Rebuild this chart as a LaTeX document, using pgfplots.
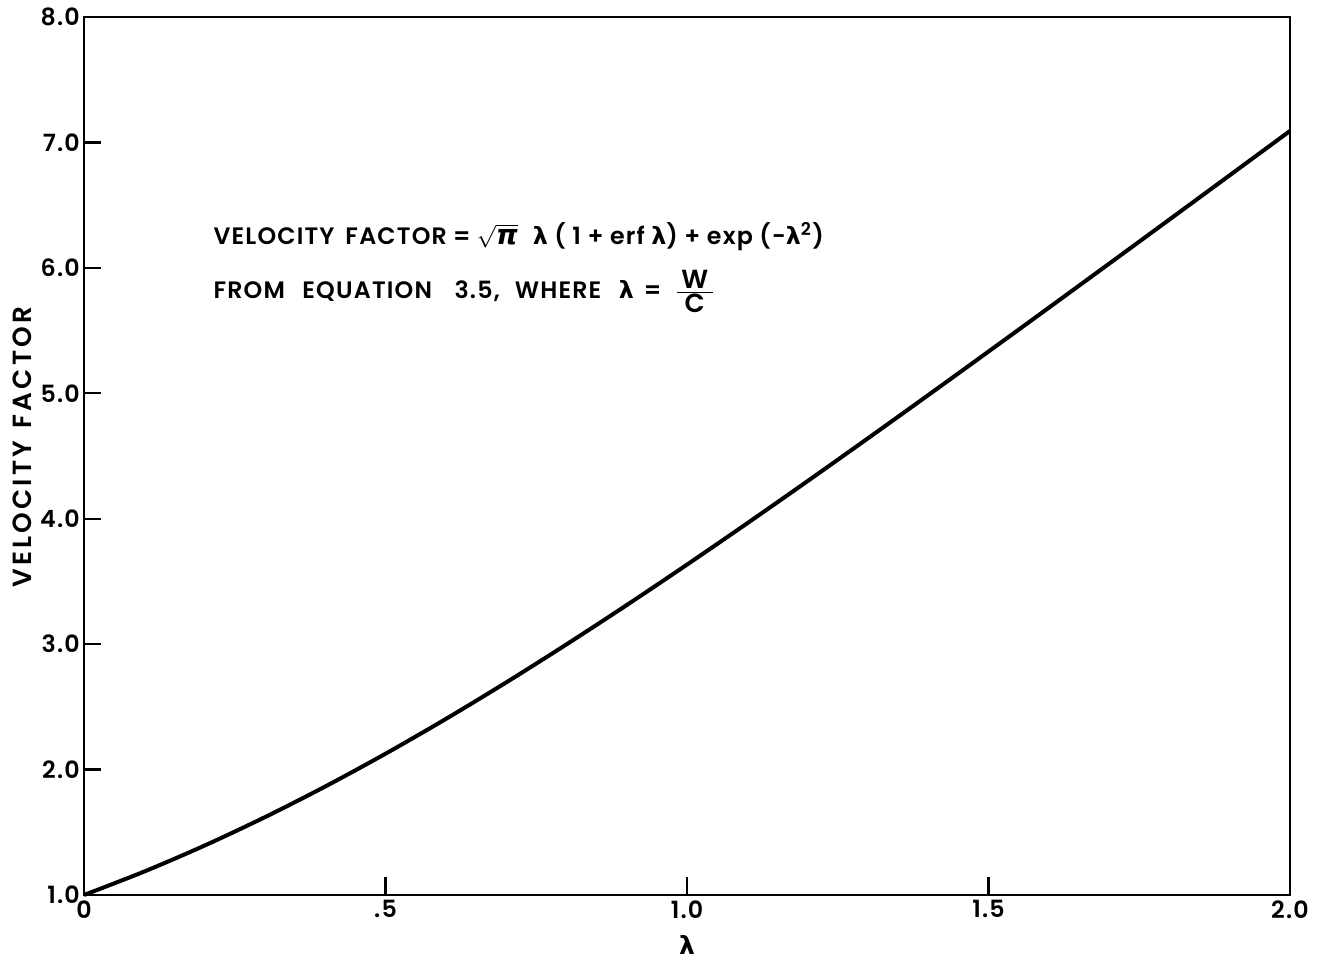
\documentclass[border=0pt]{standalone}
\usepackage{fontspec}
\usepackage{pgfplots}
\pgfplotsset{compat=1.18}
\setmainfont{Poppins}
\newfontfamily\lettering{Poppins}[UprightFont=* SemiBold, BoldFont=* SemiBold, LetterSpace=5, WordSpace=1.6]
\newfontfamily\wideletter{Poppins}[UprightFont=* SemiBold, BoldFont=* SemiBold, LetterSpace=12]
\newfontfamily\greek{DejaVu Sans}[BoldFont=* Bold, ItalicFont=* Bold Oblique]
\newcommand{\lam}{{\greek\bfseries λ}}
\newcommand{\fracletter}[1]{\mbox{\fontsize{10.5}{11}\selectfont\lettering\,#1\,}}

% velocity factor  sqrt(pi) l (1 + erf l) + exp(-l^2), tabulated
\pgfplotstableread{
lam   vf
0.0   1.00000
0.1   1.18723
0.2   1.39423
0.3   1.62041
0.4   1.86485
0.5   2.12631
0.6   2.40333
0.7   2.69430
0.8   2.99753
0.9   3.31130
1.0   3.63399
1.1   3.96403
1.2   4.30006
1.3   4.64084
1.4   4.98533
1.5   5.33265
1.6   5.68208
1.7   6.03308
1.8   6.38519
1.9   6.73810
2.0   7.09155
}\vftable

\begin{document}
\begin{tikzpicture}
\useasboundingbox (-33.6pt,-28pt) rectangle (494.8pt,358pt);
\begin{axis}[
  at={(0,0)}, anchor=south west,
  scale only axis,
  width=482.4pt, height=351.2pt,
  xmin=0, xmax=2, ymin=1, ymax=8,
  xtick={0,0.5,1,1.5,2},
  xticklabels={0,.5,1.0,1.5,2.0},
  ytick={1,2,3,4,5,6,7,8},
  yticklabels={1.0,2.0,3.0,4.0,5.0,6.0,7.0,8.0},
  tick pos=left,
  tick align=inside,
  major tick length=7pt,
  axis line style={line width=1pt},
  tick style={black, line width=0.9pt},
  tick label style={font=\fontsize{9.5}{10}\selectfont\lettering},
  yticklabel style={inner sep=1.5pt},
  xticklabel style={inner sep=2pt},
  xlabel={\fontsize{10}{12}\selectfont\lam},
  xlabel style={at={(axis description cs:0.5,-0.057)}, anchor=center},
  ylabel={\fontsize{10.5}{12}\selectfont\wideletter VELOCITY\hspace{5pt}FACTOR},
  ylabel style={at={(axis description cs:-0.0514,0.51)}, anchor=center},
  clip=false,
]
\addplot[black, line width=1.6pt, smooth] table[x=lam, y=vf] {\vftable};
\node[anchor=west, font=\fontsize{9.5}{11}\selectfont\lettering, inner sep=0pt]
  at (axis cs:0.214,6.25)
  {VELOCITY FACTOR\hspace{2.5pt}=\hspace{2.5pt}$\sqrt{\mbox{\fontsize{11}{12}\selectfont\greek\itshape π}}$\hspace{6pt}{\spaceskip=2.6pt\lam\ ( 1 + erf \lam) + exp (-\lam$^{\mbox{\fontsize{7}{8}\selectfont\lettering 2}}$)}};
\node[anchor=west, font=\fontsize{9.5}{11}\selectfont\lettering, inner sep=0pt]
  at (axis cs:0.214,5.81)
  {FROM\hspace{7pt}EQUATION\hspace{9pt}3.5,\hspace{6pt}WHERE\hspace{7pt}\lam\hspace{4pt}=\hspace{5pt}$\frac{\fracletter{W}}{\fracletter{C}}$};
\end{axis}
\end{tikzpicture}
\end{document}
